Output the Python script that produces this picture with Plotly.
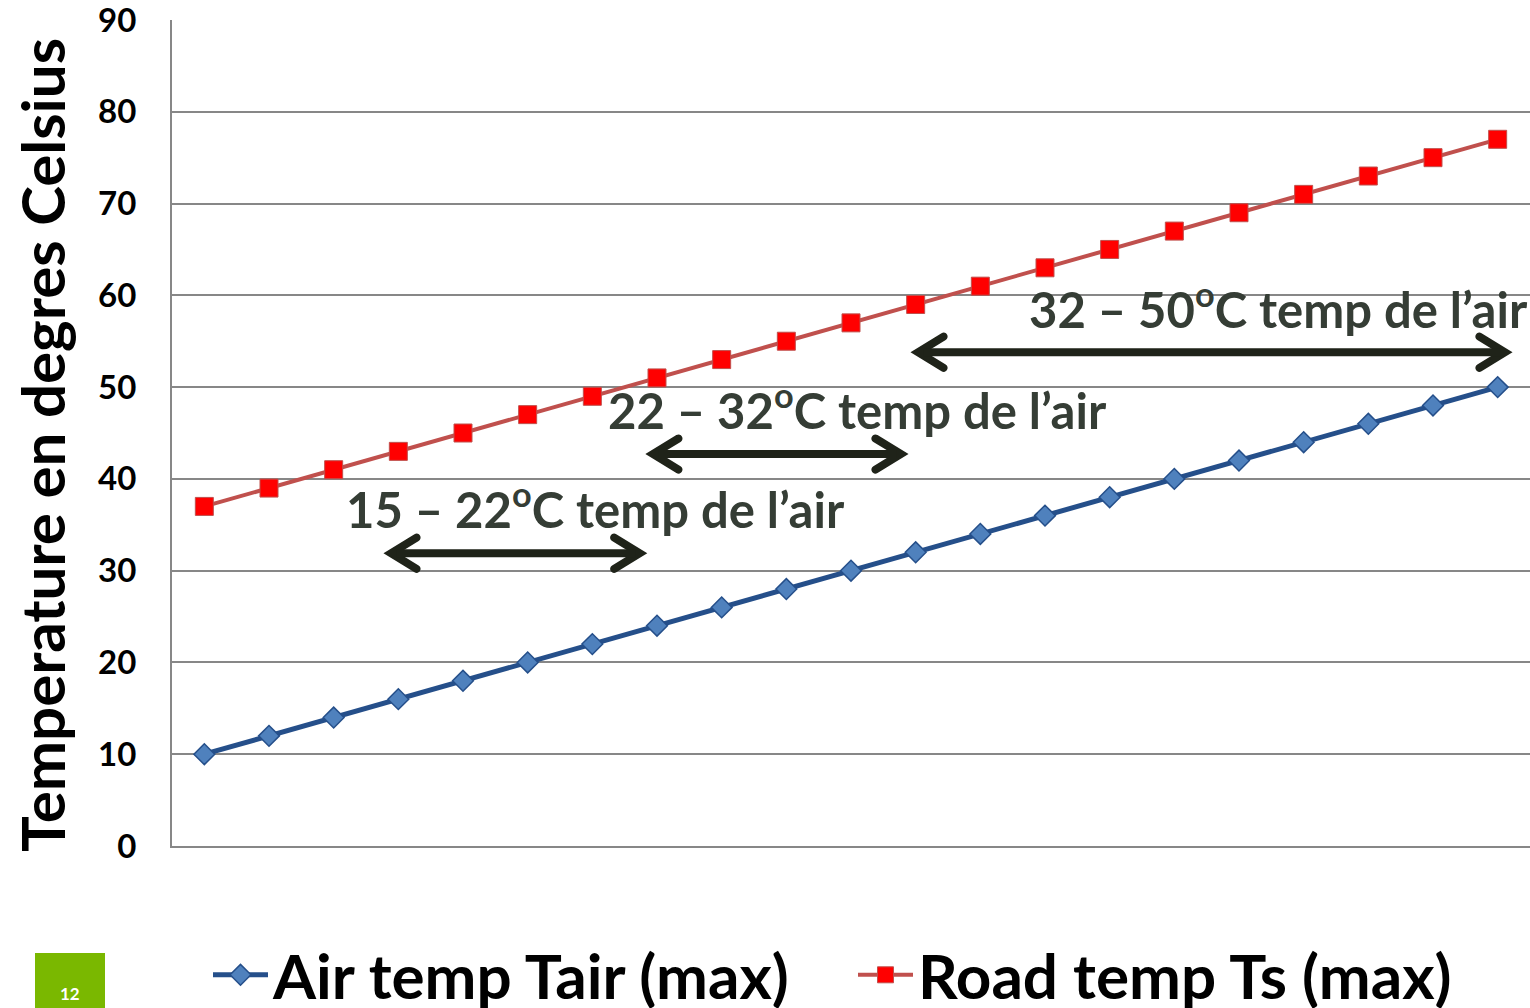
import plotly.graph_objects as go

# ---- data ----
x_idx = list(range(21))
air_temp = [10, 12, 14, 16, 18, 20, 22, 24, 26, 28, 30, 32, 34, 36, 38, 40, 42, 44, 46, 48, 50]
road_temp = [37, 39, 41, 43, 45, 47, 49, 51, 53, 55, 57, 59, 61, 63, 65, 67, 69, 71, 73, 75, 77]
series_names = ["Air temp Tair (max)", "Road temp Ts (max)"]
y_ticks = [0, 10, 20, 30, 40, 50, 60, 70, 80, 90]
y_title = "Temperature en degres Celsius"

# range annotations
range_labels = ["15 – 22<sup>o</sup>C temp de l’air",
                "22 – 32<sup>o</sup>C temp de l’air",
                "32 – 50<sup>o</sup>C temp de l’air"]
label_x = [6.05, 10.1, 16.61]
label_y = [37.15, 47.9, 58.9]
arrow_x0 = [2.77, 6.82, 10.92]
arrow_x1 = [6.85, 10.89, 20.23]
arrow_y = [31.9, 42.7, 53.8]

FONT = "Lato"
ARROW_COLOR = "#1f2319"

# chevron head (pixel offsets, pointing +x, tip at 0,0)
def chevron_path(sign):
    c1, c2, e = (-35.54, 21.78), (-39.74, 14.98), (-35.2, 12.2)
    c3, c4, e2 = (-39.74, -14.98), (-35.54, -21.78), (-31, -19)
    f = lambda p: f"{sign * p[0]:.2f},{p[1]:.2f}"
    return (f"M{f((0, 0))} L{f((-31, 19))} C{f(c1)} {f(c2)} {f(e)} "
            f"L{f((-15.3, 0))} L{f((-35.2, -12.2))} C{f(c3)} {f(c4)} {f(e2)} Z")

fig = go.Figure()
fig.add_trace(go.Scatter(
    x=x_idx, y=air_temp, name=series_names[0], mode="lines+markers",
    line=dict(color="#254f8a", width=5),
    marker=dict(symbol="diamond", size=16, color="#4f81bd",
                line=dict(color="#254f8a", width=1.5)),
))
fig.add_trace(go.Scatter(
    x=x_idx, y=road_temp, name=series_names[1], mode="lines+markers",
    line=dict(color="#c0504d", width=4),
    marker=dict(symbol="square", size=18, color="#ff0000",
                line=dict(color="#c0504d", width=1)),
))

annotations = []
shapes = []
for i in range(3):
    # arrow shaft
    annotations.append(dict(
        x=arrow_x1[i], y=arrow_y[i], ax=arrow_x0[i], ay=arrow_y[i],
        xref="x", yref="y", axref="x", ayref="y",
        text="", showarrow=True, arrowhead=0, startarrowhead=0,
        arrowside="end+start", arrowwidth=8, arrowcolor=ARROW_COLOR,
        standoff=12, startstandoff=12,
    ))
    # chevron heads
    for xa, sgn in ((arrow_x1[i], 1), (arrow_x0[i], -1)):
        shapes.append(dict(
            type="path", xref="x", yref="y", xsizemode="pixel", ysizemode="pixel",
            xanchor=xa, yanchor=arrow_y[i], path=chevron_path(sgn),
            fillcolor=ARROW_COLOR, line=dict(width=0), layer="above",
        ))
    annotations.append(dict(
        x=label_x[i], y=label_y[i], xref="x", yref="y", text=range_labels[i],
        showarrow=False, font=dict(family=FONT, size=49, color="#353d35", weight="bold"),
        xanchor="center", yanchor="middle",
    ))

# y-axis title (placed as rotated text to match the reference position)
annotations.append(dict(
    x=(42 - 172) / 1358, y=(846 - 445) / 826, xref="paper", yref="paper",
    text=y_title, textangle=-90, showarrow=False, xanchor="center", yanchor="middle",
    font=dict(family=FONT, size=60, color="black", weight="bold"),
))

# slide number
annotations.append(dict(
    x=(70 - 172) / 1358, y=(846 - 993) / 826, xref="paper", yref="paper",
    text="12", showarrow=False, xanchor="center", yanchor="middle",
    font=dict(family=FONT, size=17, color="white", weight="bold"),
))
shapes.append(dict(type="rect", xref="paper", yref="paper",
                   x0=(35 - 172) / 1358, x1=(105 - 172) / 1358,
                   y0=(846 - 953) / 826, y1=(846 - 1008) / 826,
                   fillcolor="#7ab800", line=dict(width=0), layer="below"))

fig.update_layout(
    width=1530, height=1008,
    margin=dict(l=172, r=0, t=20, b=162, autoexpand=False),
    paper_bgcolor="white", plot_bgcolor="white",
    showlegend=True,
    legend=dict(orientation="h", x=(208 - 172) / 1358, y=(846 - 975) / 826,
                xanchor="left", yanchor="middle", itemwidth=55,
                entrywidth=575, entrywidthmode="pixels",
                font=dict(family=FONT, size=62, color="black", weight="bold"),
                bgcolor="rgba(0,0,0,0)", borderwidth=0),
    annotations=annotations,
    shapes=shapes,
)

fig.update_xaxes(range=[-0.5, 20.5], showticklabels=False, showgrid=False,
                 showline=True, linecolor="#878787", linewidth=2, ticks="",
                 zeroline=False, fixedrange=True)
fig.update_yaxes(range=[0, 90], tickvals=y_ticks, showgrid=True, gridcolor="#878787",
                 gridwidth=2, showline=True, linecolor="#878787", linewidth=2,
                 zeroline=False, ticks="", ticklabelstandoff=27, ticklabeloverflow="allow",
                 tickfont=dict(family=FONT, size=33, color="black", weight="bold"))

fig.write_html("out.html")
